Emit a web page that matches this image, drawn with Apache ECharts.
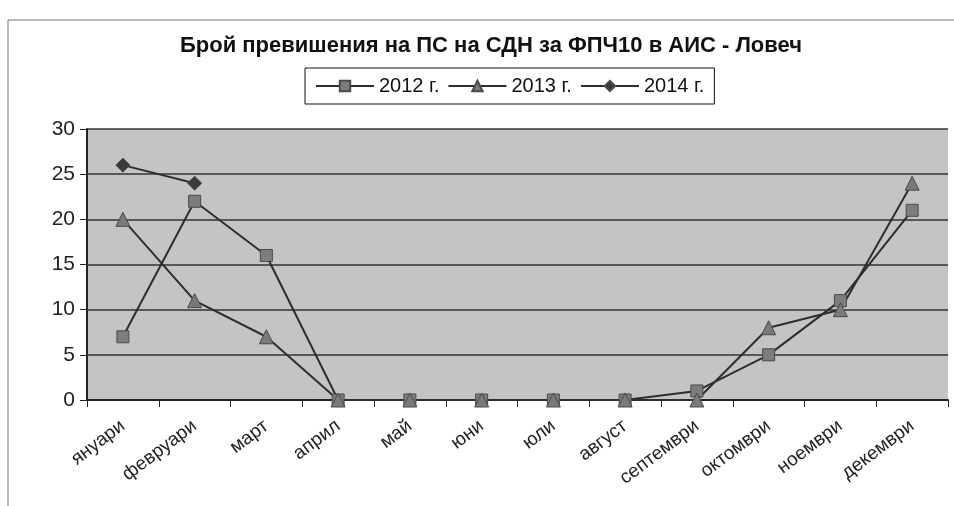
<!DOCTYPE html>
<html lang="bg">

<head>
    <meta charset="UTF-8">
    <title>Брой превишения</title>
    <style>
        * {
            margin: 0;
            padding: 0;
        }

        .box {
            width: 954px;
            height: 506px;
            background: #fff;
        }
    </style>
</head>

<body>
    <div class="box"></div>

    <script src="https://cdn.jsdelivr.net/npm/echarts@6/dist/echarts.min.js"></script>
    <script>
        var months = ['януари', 'февруари', 'март', 'април', 'май', 'юни', 'юли', 'август', 'септември', 'октомври', 'ноември', 'декември'];
        var data2012 = [7, 22, 16, 0, 0, 0, 0, 0, 1, 5, 11, 21];
        var data2013 = [20, 11, 7, 0, 0, 0, 0, 0, 0, 8, 10, 24];
        var data2014 = [26, 24, null, null, null, null, null, null, null, null, null, null];
        var yTicks = [0, 5, 10, 15, 20, 25, 30];

        var myChart = echarts.init(document.querySelector('.box'));

        function lineSeries(name, data, symbol, size, color) {
            return {
                name: name,
                type: 'line',
                data: data,
                symbol: symbol,
                symbolSize: size,
                connectNulls: false,
                lineStyle: { color: '#2e2e2e', width: 2 },
                itemStyle: { color: color, borderColor: '#4a4a4a', borderWidth: 1 }
            };
        }

        var option = {
            animation: false,
            textStyle: { fontFamily: 'Liberation Sans' },
            graphic: [{
                type: 'rect',
                shape: { x: 8, y: 20, width: 960, height: 520 },
                style: { fill: 'none', stroke: '#777', lineWidth: 1 }
            }],
            title: {
                text: 'Брой превишения на ПС на СДН за ФПЧ10 в АИС - Ловеч',
                left: 486,
                textAlign: 'center',
                top: 30,
                textStyle: { fontSize: 22, fontWeight: 'bold', color: '#111' }
            },
            legend: {
                top: 68,
                left: 305,
                data: ['2012 г.', '2013 г.', '2014 г.'],
                itemWidth: 58,
                itemHeight: 13,
                itemGap: 8,
                padding: [8, 10, 8, 10],
                borderColor: '#111',
                borderWidth: 1,
                textStyle: { fontSize: 20, color: '#111' }
            },
            grid: {
                left: 87,
                right: 6,
                top: 129,
                bottom: 106,
                show: true,
                backgroundColor: '#c4c4c4',
                borderWidth: 0
            },
            xAxis: {
                type: 'category',
                data: months,
                boundaryGap: true,
                axisLine: { lineStyle: { color: '#222', width: 2 } },
                axisTick: { show: true, length: 7, lineStyle: { color: '#222' } },
                axisLabel: { rotate: 37, fontSize: 19, color: '#222', margin: 24 }
            },
            yAxis: {
                type: 'value',
                min: yTicks[0],
                max: yTicks[yTicks.length - 1],
                interval: 5,
                axisLine: { show: true, lineStyle: { color: '#222', width: 2 } },
                axisTick: { show: true, length: 7, lineStyle: { color: '#222' } },
                axisLabel: { fontSize: 21, color: '#222', margin: 12 },
                splitLine: { lineStyle: { color: '#333', width: 1.5 } }
            },
            series: [
                lineSeries('2012 г.', data2012, 'rect', 12, '#7d7d7d'),
                lineSeries('2013 г.', data2013, 'triangle', 14, '#7a7a7a'),
                lineSeries('2014 г.', data2014, 'diamond', 14, '#3a3a3a')
            ]
        };
        myChart.setOption(option);
    </script>
</body>

</html>
